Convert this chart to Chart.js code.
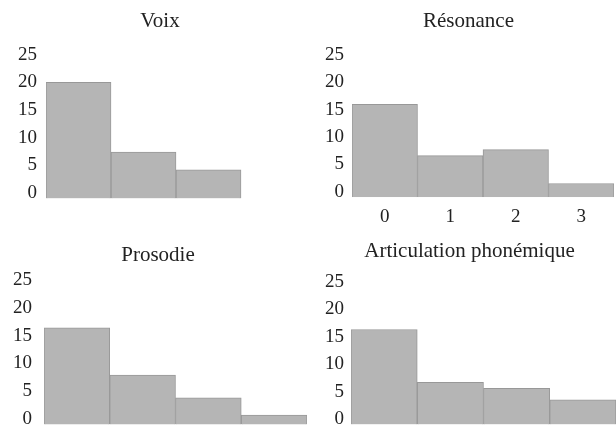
<!DOCTYPE html>
<html>
<head>
<meta charset="utf-8">
<script src="https://cdn.jsdelivr.net/npm/chart.js@4/dist/chart.umd.min.js"></script>
<style>
  body { margin: 0; background: #fff; }
  #wrap { position: relative; width: 616px; height: 427px; overflow: hidden; }
  .panel { position: absolute; }
</style>
</head>
<body>
<div id="wrap">
  <div class="panel" style="left:0px;top:0px;width:308px;height:213px"><canvas id="c1"></canvas></div>
  <div class="panel" style="left:308px;top:0px;width:308px;height:235px"><canvas id="c2"></canvas></div>
  <div class="panel" style="left:0px;top:213px;width:308px;height:214px"><canvas id="c3"></canvas></div>
  <div class="panel" style="left:308px;top:213px;width:308px;height:214px"><canvas id="c4"></canvas></div>
</div>
<script>
// scores 0..3, number of subjects per score
const categories = ['0', '1', '2', '3'];
const yTicks = [0, 5, 10, 15, 20, 25];

const voix = [20, 7.4, 4.2, null];
const resonance = [16, 6.6, 7.7, 1.5];
const prosodie = [16.4, 7.9, 3.8, 0.7];
const articulation = [16.3, 6.7, 5.6, 3.5];

const titles = ['Voix', 'Résonance', 'Prosodie', 'Articulation phonémique'];

const font = 'Liberation Serif, Times New Roman, serif';

const makeChart = function(id, title, values, cfg) {
    const ctx = document.getElementById(id).getContext('2d');
    return new Chart(ctx, {
        type: 'bar',
        data: {
            labels: categories,
            datasets: [{
                data: values,
                base: -1,
                backgroundColor: '#b5b5b5',
                borderColor: '#989898',
                borderWidth: 1,
                barPercentage: 1,
                categoryPercentage: 1
            }]
        },
        options: {
            responsive: true,
            maintainAspectRatio: false,
            animation: false,
            // left padding also pushes the centred title to the right
            layout: { padding: { left: cfg.left, right: cfg.right, top: 0, bottom: cfg.bottom } },
            plugins: {
                legend: { display: false },
                tooltip: { enabled: false },
                title: {
                    display: true,
                    text: title,
                    color: '#222',
                    font: { family: font, size: 21, weight: 'normal' },
                    padding: { top: cfg.titleTop, bottom: cfg.titleBottom }
                }
            },
            scales: {
                x: {
                    display: cfg.showX,
                    grid: { display: false, drawTicks: false },
                    border: { display: false },
                    ticks: { color: '#222', padding: 8, font: { family: font, size: 19 } },
                    afterFit: function(scale) {
                        if (cfg.showX) scale.height = 30;
                    }
                },
                y: {
                    min: -1,
                    max: 25,
                    grid: { display: false, drawTicks: false },
                    border: { display: false },
                    ticks: { color: '#222', padding: cfg.tickPad, autoSkip: false, font: { family: font, size: 19 } },
                    afterBuildTicks: function(scale) {
                        scale.ticks = yTicks.map(v => ({ value: v }));
                    },
                    afterFit: function(scale) {
                        scale.width = cfg.yWidth;
                        scale.paddingTop = 0;
                        scale.paddingBottom = 0;
                    }
                }
            }
        }
    });
}

makeChart('c1', titles[0], voix, { left: 14, right: 2, bottom: 14.5, titleTop: 8.4, titleBottom: 21, yWidth: 32, tickPad: 9, showX: false });
makeChart('c2', titles[1], resonance, { left: 15, right: 2, bottom: 7.8, titleTop: 8.4, titleBottom: 21.4, yWidth: 29, tickPad: 8, showX: true });
makeChart('c3', titles[2], prosodie, { left: 9, right: 1, bottom: 2.4, titleTop: 29.4, titleBottom: 12.4, yWidth: 35, tickPad: 12, showX: false });
makeChart('c4', titles[3], articulation, { left: 15, right: 0, bottom: 2.5, titleTop: 25.4, titleBottom: 18.1, yWidth: 28, tickPad: 7, showX: false });
</script>
</body>
</html>
